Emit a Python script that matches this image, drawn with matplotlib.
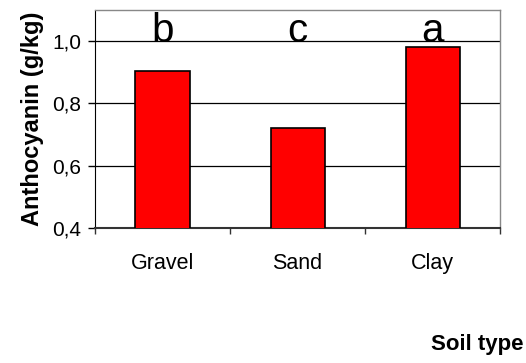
import matplotlib.pyplot as plt
import numpy as np

plt.rcParams['font.family'] = ['Liberation Sans', 'DejaVu Sans']

soils = ['Gravel', 'Sand', 'Clay']
anthocyanin = [0.905, 0.72, 0.98]
letters = ['b', 'c', 'a']
yticks = [0.4, 0.6, 0.8, 1.0]

fig = plt.figure(figsize=(5.26, 3.63), dpi=100)
ax = fig.add_axes([0.1806, 0.372, 0.77, 0.6005])

x = np.arange(len(soils))
ax.bar(x, anthocyanin, width=0.4, bottom=0, color='#ff0000',
       edgecolor='black', linewidth=1.2, zorder=3)

ax.set_xlim(-0.5, 2.5)
ax.set_ylim(0.4, 1.1)
ax.set_yticks(yticks)
ax.set_yticklabels([('%.1f' % v).replace('.', ',') for v in yticks])
ax.yaxis.grid(True, color='black', linewidth=0.9, zorder=0)

# category boundaries carry the tick marks, labels sit between them
ax.set_xticks([-0.5, 0.5, 1.5, 2.5])
ax.set_xticklabels([])
ax.set_xticks(x, minor=True)
ax.set_xticklabels(soils, minor=True, fontsize=15.5)
ax.tick_params(axis='x', which='major', length=4, width=1, color='#333333')
ax.tick_params(axis='x', which='minor', length=0, pad=18)
ax.tick_params(axis='y', length=5, width=1, labelsize=15, pad=5)

for s in ['top', 'right']:
    ax.spines[s].set_color('#888888')
    ax.spines[s].set_linewidth(1)
ax.spines['left'].set_color('black')
ax.spines['bottom'].set_color('#333333')
ax.spines['bottom'].set_linewidth(1.5)

for xi, lt in zip(x, letters):
    ax.text(xi, 0.998, lt, ha='center', va='baseline', fontsize=29, zorder=4)

ax.set_ylabel('Anthocyanin (g/kg)', fontsize=17, fontweight='bold', labelpad=6)
fig.text(0.995, 0.05, 'Soil type', ha='right', va='center',
         fontsize=16, fontweight='bold')

fig.savefig('out.png', dpi=100)
